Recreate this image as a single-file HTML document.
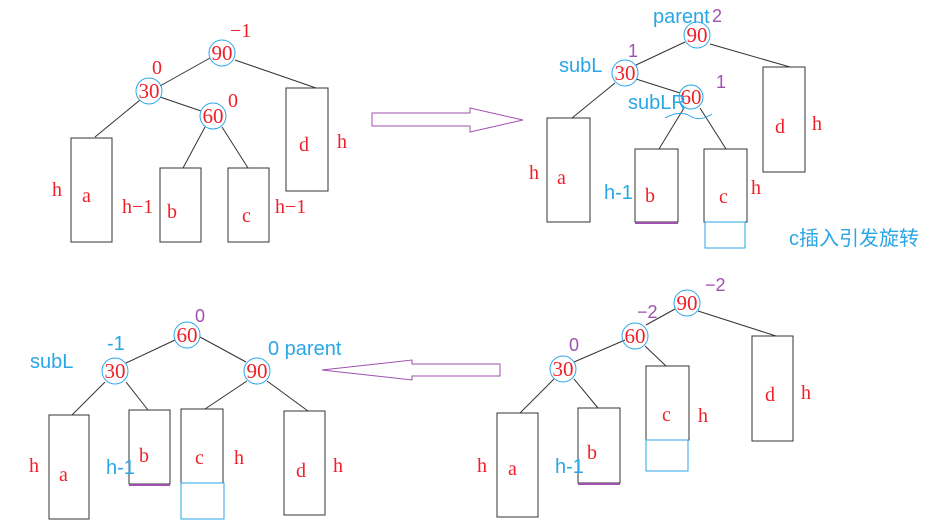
<!DOCTYPE html>
<html><head><meta charset="utf-8"><style>
html,body{margin:0;padding:0;background:#fff;width:950px;height:527px;overflow:hidden}
.r{font-family:"Liberation Serif",serif;fill:#f0202a;font-size:20px}
.n{font-family:"Liberation Serif",serif;fill:#f0202a;font-size:21px}
.b{font-family:"Liberation Sans","Noto Sans CJK SC",sans-serif;fill:#2aa6e6;font-size:20px}
.p{font-family:"Liberation Sans",sans-serif;fill:#a050b0;font-size:18px}
</style></head><body>
<svg width="950" height="527" xmlns="http://www.w3.org/2000/svg">
<g stroke="#333" stroke-width="1" fill="none">
<line x1="235" y1="60" x2="316" y2="88"/><line x1="210" y1="58" x2="160" y2="86"/>
<line x1="140" y1="100" x2="95" y2="137"/><line x1="160" y1="97" x2="201" y2="111"/>
<line x1="205" y1="127" x2="183" y2="168"/><line x1="222" y1="127" x2="248" y2="168"/>
<rect x="71" y="138" width="41" height="104"/><rect x="160" y="168" width="41" height="74"/>
<rect x="228" y="168" width="41" height="74"/><rect x="286" y="88" width="42" height="103"/>
<line x1="710" y1="44" x2="790" y2="67"/><line x1="685" y1="42" x2="636" y2="65"/>
<line x1="615" y1="83" x2="572" y2="118"/><line x1="636" y1="79" x2="680" y2="93"/>
<line x1="684" y1="108" x2="659" y2="149"/><line x1="700" y1="108" x2="726" y2="149"/>
<rect x="547" y="118" width="43" height="104"/><rect x="635" y="149" width="43" height="73"/>
<rect x="704" y="149" width="43" height="73"/><rect x="763" y="67" width="42" height="105"/>
<line x1="698" y1="311" x2="776" y2="336"/><line x1="675" y1="309" x2="646" y2="325"/>
<line x1="625" y1="340" x2="574" y2="362"/><line x1="645" y1="346" x2="666" y2="366"/>
<line x1="554" y1="379" x2="520" y2="413"/><line x1="574" y1="379" x2="598" y2="408"/>
<rect x="497" y="413" width="41" height="104"/><rect x="578" y="408" width="42" height="75"/>
<rect x="646" y="366" width="43" height="74"/><rect x="752" y="336" width="41" height="105"/>
<line x1="175" y1="340" x2="126" y2="363"/><line x1="200" y1="337" x2="246" y2="362"/>
<line x1="105" y1="382" x2="72" y2="415"/><line x1="126" y1="382" x2="148" y2="410"/>
<line x1="247" y1="381" x2="205" y2="409"/><line x1="267" y1="381" x2="308" y2="411"/>
<rect x="49" y="415" width="40" height="104"/><rect x="129" y="410" width="41" height="74"/>
<rect x="181" y="409" width="42" height="74"/><rect x="284" y="411" width="41" height="104"/>
</g>
<g stroke="#2aa6e6" fill="none" stroke-width="1">
<circle cx="222" cy="53" r="13"/><circle cx="149" cy="91" r="13"/><circle cx="213" cy="116" r="13"/>
<circle cx="697" cy="35" r="13"/><circle cx="625" cy="73" r="13"/><circle cx="691" cy="97" r="12"/>
<path d="M665 118 Q680 110 690 116 T712 114"/>
<rect x="705" y="222" width="40" height="26"/>
<circle cx="687" cy="303" r="13"/><circle cx="635" cy="336" r="13"/><circle cx="563" cy="369" r="13"/>
<rect x="646" y="440" width="42" height="31"/>
<circle cx="187" cy="335" r="13"/><circle cx="115" cy="371" r="13"/><circle cx="257" cy="371" r="13"/>
<rect x="181" y="483" width="43" height="36"/>
</g>
<g stroke="#a050b0" fill="none" stroke-width="1">
<path d="M372 113 L470 113 L470 108 L523 120 L470 132 L470 126 L372 126 Z"/>
<path d="M500 364 L412 364 L412 360 L322 370 L412 380 L412 376 L500 376 Z"/>
<line x1="635" y1="223" x2="678" y2="223" stroke-width="2"/>
<line x1="578" y1="484" x2="620" y2="484" stroke-width="2"/>
<line x1="129" y1="485" x2="170" y2="485" stroke-width="2"/>
</g>
<text class="n" x="222" y="60" text-anchor="middle">90</text>
<text class="n" x="149" y="98" text-anchor="middle">30</text>
<text class="n" x="213" y="123" text-anchor="middle">60</text>
<text class="r" x="230" y="37">−1</text><text class="r" x="152" y="74">0</text><text class="r" x="228" y="107">0</text>
<text class="r" x="82" y="202">a</text><text class="r" x="167" y="218">b</text><text class="r" x="242" y="222">c</text><text class="r" x="299" y="151">d</text>
<text class="r" x="52" y="196">h</text><text class="r" x="122" y="213">h−1</text><text class="r" x="275" y="213">h−1</text><text class="r" x="337" y="148">h</text>
<text class="b" x="653" y="23">parent</text><text class="p" x="712" y="22" font-size="20">2</text>
<text class="n" x="697" y="42" text-anchor="middle">90</text>
<text class="b" x="559" y="72">subL</text><text class="p" x="628" y="57">1</text>
<text class="n" x="625" y="80" text-anchor="middle">30</text>
<text class="n" x="691" y="104" text-anchor="middle">60</text>
<text class="b" x="628" y="109">subLR</text><text class="p" x="716" y="88">1</text>
<text class="r" x="557" y="184">a</text><text class="r" x="645" y="202">b</text><text class="r" x="719" y="203">c</text><text class="r" x="775" y="133">d</text>
<text class="r" x="529" y="179">h</text><text class="b" x="604" y="199">h-1</text><text class="r" x="751" y="194">h</text><text class="r" x="812" y="130">h</text>
<text class="b" x="789" y="245">c插入引发旋转</text>
<text class="n" x="687" y="310" text-anchor="middle">90</text><text class="p" x="705" y="291">−2</text>
<text class="n" x="635" y="343" text-anchor="middle">60</text><text class="p" x="637" y="318">−2</text>
<text class="n" x="563" y="376" text-anchor="middle">30</text><text class="p" x="569" y="351">0</text>
<text class="r" x="508" y="475">a</text><text class="r" x="587" y="459">b</text><text class="r" x="662" y="421">c</text><text class="r" x="765" y="401">d</text>
<text class="r" x="477" y="472">h</text><text class="b" x="555" y="473">h-1</text><text class="r" x="698" y="422">h</text><text class="r" x="801" y="399">h</text>
<text class="n" x="187" y="342" text-anchor="middle">60</text><text class="p" x="195" y="322">0</text>
<text class="n" x="115" y="378" text-anchor="middle">30</text><text class="b" x="107" y="350">-1</text>
<text class="b" x="30" y="368">subL</text>
<text class="n" x="257" y="378" text-anchor="middle">90</text><text class="b" x="268" y="355">0  parent</text>
<text class="r" x="59" y="481">a</text><text class="r" x="139" y="462">b</text><text class="r" x="195" y="464">c</text><text class="r" x="296" y="477">d</text>
<text class="r" x="29" y="472">h</text><text class="b" x="106" y="474">h-1</text><text class="r" x="234" y="464">h</text><text class="r" x="333" y="472">h</text>
</svg>
</body></html>
